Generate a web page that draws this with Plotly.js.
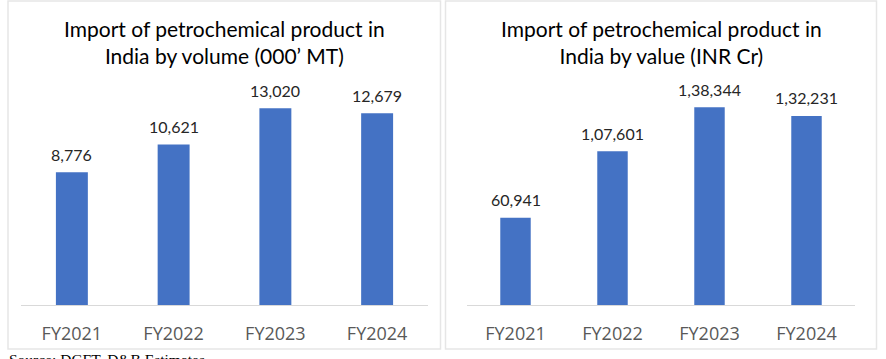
<!DOCTYPE html>
<html>
<head>
<meta charset="utf-8">
<script src="https://cdn.plot.ly/plotly-3.0.1.min.js"></script>
<style>html,body{margin:0;padding:0;background:#fff;}#chart{width:886px;height:359px;}</style>
</head>
<body>
<div id="chart"></div>
<script>
const categories = ["FY2021", "FY2022", "FY2023", "FY2024"];
const volumeValues = [8776, 10621, 13020, 12679];
const valueValues = [60941, 107601, 138344, 132231];
const volumeTitle = "Import of petrochemical product in<br>India by volume (000’ MT)";
const valueTitle = "Import of petrochemical product in<br>India by value (INR Cr)";
const sourceText = "Source: DGFT, D&B Estimates";

function indianFormat(n) {
  const s = String(Math.round(n));
  if (s.length <= 3) return s;
  const last3 = s.slice(-3);
  let rest = s.slice(0, -3);
  const parts = [];
  while (rest.length > 2) { parts.unshift(rest.slice(-2)); rest = rest.slice(0, -2); }
  if (rest.length) parts.unshift(rest);
  return parts.join(",") + "," + last3;
}

const W = 886, H = 359;
const px = x => x / W;
const py = y => 1 - y / H;

const barColor = "#4472C4";
const labelFont = {family: "Lato, 'Open Sans', sans-serif", size: 16, color: "#262626"};
const titleFont = {family: "Lato, 'Open Sans', sans-serif", size: 21, color: "#000000"};
const tickFont = {family: "'Open Sans', Lato, sans-serif", size: 18, color: "#595959"};

const traces = [
  {type: "bar", x: categories, y: volumeValues, xaxis: "x", yaxis: "y",
   marker: {color: barColor}, hoverinfo: "none"},
  {type: "bar", x: categories, y: valueValues, xaxis: "x2", yaxis: "y2",
   marker: {color: barColor}, hoverinfo: "none"}
];

const annotations = [];
categories.forEach((c, i) => {
  annotations.push({x: c, y: volumeValues[i], xref: "x", yref: "y", text: indianFormat(volumeValues[i]),
    showarrow: false, yanchor: "middle", yshift: 18, font: labelFont});
  annotations.push({x: c, y: valueValues[i], xref: "x2", yref: "y2", text: indianFormat(valueValues[i]),
    showarrow: false, yanchor: "middle", yshift: 18, font: labelFont});
});
annotations.push({xref: "paper", yref: "paper", x: px(224.5), y: py(41.5), text: volumeTitle,
  showarrow: false, xanchor: "center", yanchor: "middle", font: titleFont, align: "center"});
annotations.push({xref: "paper", yref: "paper", x: px(661.5), y: py(41.5), text: valueTitle,
  showarrow: false, xanchor: "center", yanchor: "middle", font: titleFont, align: "center"});
annotations.push({xref: "paper", yref: "paper", x: px(7), y: py(348.5), text: sourceText,
  showarrow: false, xanchor: "left", yanchor: "top",
  font: {family: "'Liberation Serif', 'Times New Roman', serif", size: 15.5, color: "#000"}});

const axisX = {showgrid: false, zeroline: false, showline: true, linecolor: "#d9d9d9", linewidth: 1,
  ticks: "outside", ticklen: 12, tickcolor: "rgba(0,0,0,0)", tickfont: tickFont, fixedrange: true};
const axisY = {visible: false, showgrid: false, zeroline: false, fixedrange: true};

const layout = {
  width: W, height: H,
  margin: {l: 0, r: 0, t: 0, b: 0},
  paper_bgcolor: "#ffffff", plot_bgcolor: "rgba(0,0,0,0)",
  showlegend: false,
  bargap: 0.686,
  xaxis: Object.assign({}, axisX, {domain: [px(21), px(428)], anchor: "y"}),
  yaxis: Object.assign({}, axisY, {domain: [py(305), py(100)], range: [0, 205 / 0.01512], anchor: "x"}),
  xaxis2: Object.assign({}, axisX, {domain: [px(467), px(855)], anchor: "y2"}),
  yaxis2: Object.assign({}, axisY, {domain: [py(305), py(100)], range: [0, 205 / 0.00143], anchor: "x2"}),
  shapes: [
    {type: "rect", xref: "paper", yref: "paper", x0: px(8), x1: px(440.5), y0: py(349), y1: py(1),
     line: {color: "#e6e6e6", width: 1.5}, fillcolor: "rgba(0,0,0,0)", layer: "below"},
    {type: "rect", xref: "paper", yref: "paper", x0: px(445.5), x1: px(876.5), y0: py(349), y1: py(1),
     line: {color: "#e6e6e6", width: 1.5}, fillcolor: "rgba(0,0,0,0)", layer: "below"}
  ],
  annotations: annotations
};

Plotly.newPlot("chart", traces, layout, {displayModeBar: false, staticPlot: true});
</script>
</body>
</html>
